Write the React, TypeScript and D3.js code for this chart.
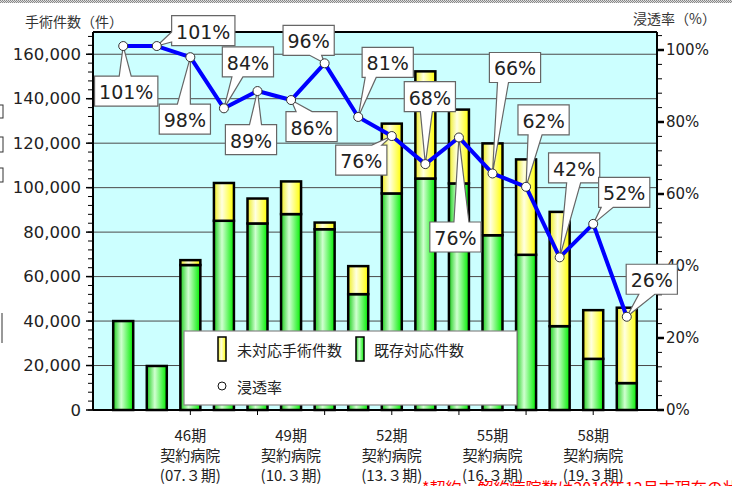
import React from 'react';
import * as d3 from 'd3';

// 44期〜59期
const periods = ['44期', '45期', '46期', '47期', '48期', '49期', '50期', '51期', '52期', '53期', '54期', '55期', '56期', '57期', '58期', '59期'];
const existingCases = [40000, 19800, 65200, 85100, 83900, 88100, 81300, 52100, 97400, 104100, 101900, 78600, 69800, 37700, 23000, 12100];
const unhandledCases = [0, 0, 2200, 17000, 11200, 14700, 3000, 12600, 31400, 48200, 33200, 41300, 42900, 51400, 21900, 33900];
const penetration = [101.1, 101.1, 98.0, 83.8, 88.6, 86.1, 96.3, 81.4, 76.1, 68.3, 75.7, 65.7, 62.0, 42.4, 51.7, 25.9];

const leftTicks = [0, 20000, 40000, 60000, 80000, 100000, 120000, 140000, 160000];
const rightTicks = [0, 20, 40, 60, 80, 100];
const labelPeriods = ['46期', '49期', '52期', '55期', '58期'];
const labelDates = ['(07.３期)', '(10.３期)', '(13.３期)', '(16.３期)', '(19.３期)'];

// callout placement: box centre offset from the point, which side the pointer leaves, pointer base (relative to box centre)
const callouts = [
  { dx: 3, dy: 45, side: 'top', a: -7, b: 5 },
  { dx: 46.5, dy: -15.5, side: 'left', a: 1.5, b: 11.5 },
  { dx: -5.5, dy: 62, side: 'top', a: -7.5, b: 5.5 },
  { dx: 24, dy: -46.5, side: 'bottom', a: -16, b: -5 },
  { dx: -6.5, dy: 48.5, side: 'top', a: -1.5, b: 10.5 },
  { dx: 20.5, dy: 26.5, side: 'top', a: -15.5, b: 0.5 },
  { dx: -16, dy: -23, side: 'bottom', a: 1, b: 13 },
  { dx: 29.5, dy: -54.5, side: 'bottom', a: -22.5, b: -11.5 },
  { dx: -30.5, dy: 24, side: 'top', a: 10.5, b: 20.5 },
  { dx: 4.5, dy: -67.5, side: 'bottom', a: -9.5, b: 2.5 },
  { dx: -3.5, dy: 99.5, side: 'top', a: -1.5, b: 13.5 },
  { dx: 22.5, dy: -106, side: 'bottom', a: -17.5, b: -6.5 },
  { dx: 17.5, dy: -67, side: 'bottom', a: -15.5, b: -1.5 },
  { dx: 14.5, dy: -89.5, side: 'bottom', a: -7.5, b: 6.5 },
  { dx: 31, dy: -31.5, side: 'bottom', a: -23, b: -11 },
  { dx: 25, dy: -37.5, side: 'bottom', a: -13, b: 3 },
];

const W = 732;
const H = 486;
const plot = { left: 93, right: 657, top: 32, bottom: 410 };
const numFont = '"DejaVu Sans", Verdana, sans-serif';
const jpFont = '"Noto Sans CJK JP", "Noto Sans", sans-serif';

function calloutPath(x0: number, y0: number, x1: number, y1: number, side: string, a: number, b: number, tx: number, ty: number) {
  let p = `M${x0},${y0}`;
  if (side === 'top') p += `L${a},${y0}L${tx},${ty}L${b},${y0}`;
  p += `L${x1},${y0}`;
  if (side === 'right') p += `L${x1},${a}L${tx},${ty}L${x1},${b}`;
  p += `L${x1},${y1}`;
  if (side === 'bottom') p += `L${b},${y1}L${tx},${ty}L${a},${y1}`;
  p += `L${x0},${y1}`;
  if (side === 'left') p += `L${x0},${b}L${tx},${ty}L${x0},${a}`;
  return p + 'Z';
}

export default function App() {
  const x = d3.scalePoint<string>().domain(periods).range([plot.left, plot.right]).padding(0.9);
  const yL = d3.scaleLinear().domain([0, 170000]).range([plot.bottom, plot.top]);
  const yR = d3.scaleLinear().domain([0, 105]).range([plot.bottom, plot.top]);
  const barW = 20;

  const rows = periods.map((p, i) => ({ period: p, existing: existingCases[i], unhandled: unhandledCases[i] }));
  const stacked = d3.stack<any>().keys(['existing', 'unhandled'])(rows);

  const line = d3.line<number>()
    .x((_, i) => x(periods[i])!)
    .y(d => yR(d));

  const fmt = d3.format(',');
  const minorLeft = d3.range(0, 170000, 4000);
  const minorRight = d3.range(0, 105, 4);
  const xTickCats = periods.filter((_, i) => i % 2 === 0 && i > 0 && i < periods.length - 1);

  return (
    <svg width={W} height={H} style={{ position: 'absolute', left: 0, top: 0, background: '#fff' }}>
      <defs>
        <linearGradient id="gGreen" x1="0" x2="1" y1="0" y2="0">
          <stop offset="0" stopColor="#1ccf1c" />
          <stop offset="0.4" stopColor="#d0ffd0" />
          <stop offset="1" stopColor="#00ee00" />
        </linearGradient>
        <linearGradient id="gYellow" x1="0" x2="1" y1="0" y2="0">
          <stop offset="0" stopColor="#eeee22" />
          <stop offset="0.4" stopColor="#ffffe2" />
          <stop offset="1" stopColor="#ffff00" />
        </linearGradient>
        <pattern id="checker" width="2" height="2" patternUnits="userSpaceOnUse">
          <rect width="2" height="2" fill="#ddd" />
          <rect width="1" height="1" fill="#888" />
          <rect x="1" y="1" width="1" height="1" fill="#888" />
        </pattern>
      </defs>

      <rect x={0} y={0} width={W} height={3} fill="url(#checker)" />

      {/* stray frames on the left edge */}
      <rect x={-6} y={105} width={9} height={13} fill="none" stroke="#333" />
      <rect x={-6} y={137} width={9} height={15} fill="none" stroke="#333" />
      <rect x={-6} y={168} width={9} height={14} fill="none" stroke="#333" />
      <line x1={2} x2={2} y1={313} y2={343} stroke="#333" />

      {/* plot background + grid */}
      <rect x={plot.left} y={plot.top} width={plot.right - plot.left} height={plot.bottom - plot.top} fill="#ccffff" />
      {leftTicks.filter(t => t > 0).map(t => (
        <line key={t} x1={plot.left} x2={plot.right} y1={yL(t)} y2={yL(t)} stroke="#4a4a4a" strokeWidth={1} />
      ))}

      {/* bars */}
      {stacked.map((layer, li) => (
        <g key={layer.key}>
          {layer.map((d, i) => {
            if (d[1] - d[0] <= 0) return null;
            const y0 = yL(d[0]);
            const y1 = yL(d[1]);
            return (
              <rect key={i} x={x(periods[i])! - barW / 2} y={y1} width={barW} height={y0 - y1}
                fill={li === 0 ? 'url(#gGreen)' : 'url(#gYellow)'} stroke="#000" strokeWidth={2.5} />
            );
          })}
        </g>
      ))}

      {/* legend */}
      <rect x={184} y={331} width={333} height={74} fill="#fff" stroke="#888" strokeWidth={1.2} />
      <rect x={218} y={337} width={8} height={24} fill="url(#gYellow)" stroke="#000" strokeWidth={1.5} />
      <text x={237} y={349} dominantBaseline="central" fontFamily={jpFont} fontSize={15} fill="#222">未対応手術件数</text>
      <rect x={356} y={337} width={8} height={24} fill="url(#gGreen)" stroke="#000" strokeWidth={1.5} />
      <text x={374} y={349} dominantBaseline="central" fontFamily={jpFont} fontSize={15} fill="#222">既存対応件数</text>
      <circle cx={222} cy={386} r={4} fill="#fff" stroke="#111" strokeWidth={1} />
      <text x={237} y={386} dominantBaseline="central" fontFamily={jpFont} fontSize={15} fill="#222">浸透率</text>

      {/* frame / axes */}
      <line x1={plot.left} x2={plot.right} y1={plot.top} y2={plot.top} stroke="#000" strokeWidth={2} />
      <line x1={plot.left} x2={plot.left} y1={plot.top} y2={plot.bottom} stroke="#000" strokeWidth={2} />
      <line x1={plot.right} x2={plot.right} y1={plot.top} y2={plot.bottom} stroke="#000" strokeWidth={2} />
      <line x1={plot.left} x2={plot.right} y1={plot.bottom} y2={plot.bottom} stroke="#000" strokeWidth={2} />

      {minorLeft.map(t => (
        <line key={'ml' + t} x1={plot.left - 5} x2={plot.left} y1={yL(t)} y2={yL(t)} stroke="#000" strokeWidth={1} />
      ))}
      {leftTicks.map(t => (
        <g key={'l' + t}>
          <line x1={plot.left - 7} x2={plot.left} y1={yL(t)} y2={yL(t)} stroke="#000" strokeWidth={1.5} />
          <text x={81} y={yL(t)} textAnchor="end" dominantBaseline="central" fontFamily={numFont} fontSize={16.5} fill="#222">{fmt(t)}</text>
        </g>
      ))}
      {minorRight.map(t => (
        <line key={'mr' + t} x1={plot.right} x2={plot.right + 5} y1={yR(t)} y2={yR(t)} stroke="#000" strokeWidth={1} />
      ))}
      {rightTicks.map(t => (
        <g key={'r' + t}>
          <line x1={plot.right} x2={plot.right + 7} y1={yR(t)} y2={yR(t)} stroke="#000" strokeWidth={2.5} />
          <text x={666} y={yR(t)} dominantBaseline="central" fontFamily={numFont} fontSize={15} fill="#222">{t}%</text>
        </g>
      ))}
      {xTickCats.map(c => (
        <line key={'x' + c} x1={x(c)!} x2={x(c)!} y1={plot.bottom} y2={plot.bottom + 5} stroke="#000" strokeWidth={1} />
      ))}

      {/* axis titles */}
      <text x={25} y={21} dominantBaseline="central" fontFamily={jpFont} fontSize={14} fill="#333">手術件数（件）</text>
      <text x={633} y={18} dominantBaseline="central" fontFamily={jpFont} fontSize={14} fill="#333">浸透率（%）</text>

      {/* category labels */}
      {labelPeriods.map((lp, k) => {
        const cx = x(lp)!;
        return (
          <g key={lp} fontFamily={jpFont} fontSize={15} fill="#222" textAnchor="middle">
            <text x={cx} y={434} dominantBaseline="central">{lp}</text>
            <text x={cx} y={454} dominantBaseline="central">契約病院</text>
            <text x={cx} y={474} dominantBaseline="central">{labelDates[k]}</text>
          </g>
        );
      })}

      <text x={422} y={494} fontFamily={jpFont} fontSize={16} fill="#ff0000">*契約・解約病院数は2019年12月末現在の状況</text>

      {/* penetration line */}
      <path d={line(penetration)!} fill="none" stroke="#0000ff" strokeWidth={4} strokeLinejoin="round" />

      {/* callouts */}
      {penetration.map((v, i) => {
        const px = x(periods[i])!;
        const py = yR(v);
        const c = callouts[i];
        const label = `${Math.round(v)}%`;
        const w = (label.length - 1) * 12.1 + 19 + 8;
        const h = 30;
        const cx = px + c.dx;
        const cy = py + c.dy;
        const x0 = cx - w / 2, x1 = cx + w / 2, y0 = cy - h / 2, y1 = cy + h / 2;
        const horiz = c.side === 'top' || c.side === 'bottom';
        const a = horiz ? cx + c.a : cy + c.a;
        const b = horiz ? cx + c.b : cy + c.b;
        return (
          <g key={'c' + i}>
            <path d={calloutPath(x0, y0, x1, y1, c.side, a, b, px, py)} fill="#fff" stroke="#666" strokeWidth={1.2} />
            <text x={cx} y={cy + 1} textAnchor="middle" dominantBaseline="central" fontFamily={numFont} fontSize={19} fill="#222">{label}</text>
          </g>
        );
      })}

      {penetration.map((v, i) => (
        <circle key={'p' + i} cx={x(periods[i])!} cy={yR(v)} r={4.5} fill="#fff" stroke="#333" strokeWidth={1} />
      ))}
    </svg>
  );
}
